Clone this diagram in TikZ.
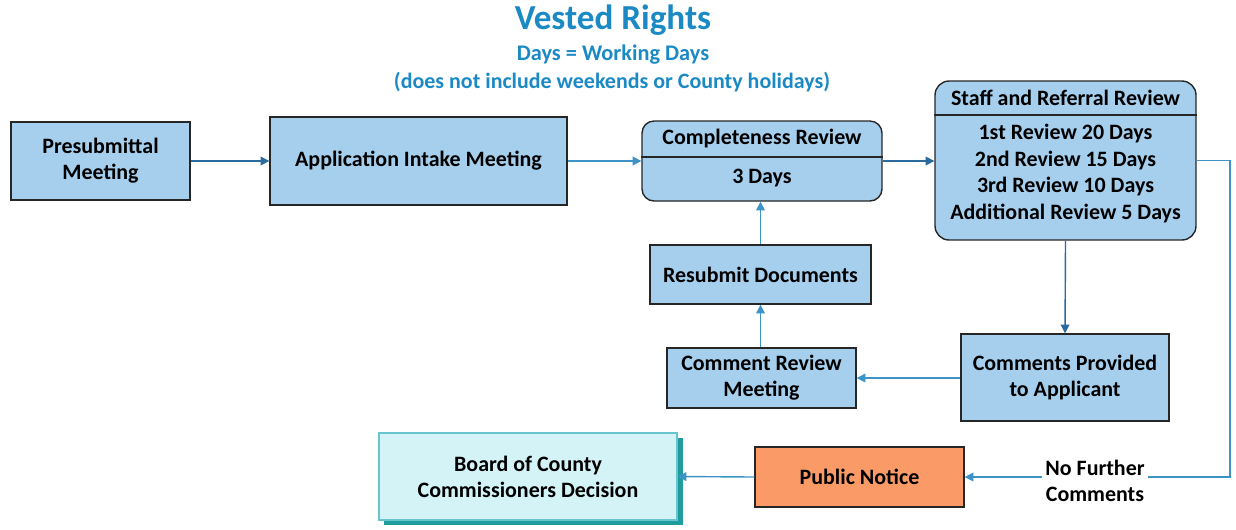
\documentclass[tikz,border=0pt]{standalone}
\usepackage{fontspec}
\setmainfont{Carlito}
\usetikzlibrary{arrows.meta,calc}
\definecolor{boxfill}{HTML}{A6CFEE}
\definecolor{lineblue}{HTML}{3D93C6}
\definecolor{darkblue}{HTML}{2A6A9C}
\definecolor{titleblue}{HTML}{1B8AC4}
\definecolor{orangefill}{HTML}{FA9B67}
\definecolor{boardfill}{HTML}{D4F3F6}
\definecolor{boardline}{HTML}{68C5CE}
\definecolor{shadowteal}{HTML}{1E9C9E}
\tikzset{
  procbox/.style={draw=black!85, line width=0.8pt, fill=boxfill, align=center,
    font=\bfseries\fontsize{12.5}{14.8}\selectfont, inner sep=2pt},
  conn/.style={draw=lineblue, line width=0.8pt, -{Triangle[length=5pt,width=5pt]}},
  connd/.style={draw=darkblue, line width=0.8pt, -{Triangle[length=5pt,width=5pt]}},
  boxtext/.style={font=\bfseries\fontsize{12.5}{14.8}\selectfont, align=center, inner sep=0pt},
}
\begin{document}
\begin{tikzpicture}[x=0.02cm,y=-0.02cm]
\useasboundingbox (0,0) rectangle (1236,529);
% titles
\node[text=titleblue, font=\bfseries\fontsize{20}{24}\selectfont] (title) at (613,20) {Vested Rights};
\node[text=titleblue, font=\bfseries\fontsize{12.7}{15}\selectfont] (sub1) at (613,55) {Days = Working Days};
\node[text=titleblue, font=\bfseries\fontsize{12.5}{15}\selectfont] (sub2) at (612,82) {(does not include weekends or County holidays)};
% boxes
\node[procbox, minimum width=3.58cm, minimum height=1.56cm] (pre) at (100.5,161) {Presubmittal\\Meeting};
\node[procbox, minimum width=5.94cm, minimum height=1.76cm] (app) at (418.5,161) {Application Intake Meeting};
\node[procbox, rounded corners=0.24cm, minimum width=4.8cm, minimum height=1.6cm] (comp) at (762,161) {};
\draw[black!85, line width=0.8pt] (comp.west |- 0,157) -- (comp.east |- 0,157);
\node[boxtext] (compt) at (762,139) {Completeness Review};
\node[boxtext] (compd) at (762,178) {3 Days};
\node[procbox, rounded corners=0.28cm, minimum width=5.22cm, minimum height=3.18cm] (staff) at (1065.5,160.5) {};
\draw[black!85, line width=0.8pt] (staff.west |- 0,115) -- (staff.east |- 0,115);
\node[boxtext] (stafft) at (1065.5,98) {Staff and Referral Review};
\node[boxtext, font=\bfseries\fontsize{12.5}{15.2}\selectfont] (staffd) at (1065.5,173.5) {1st Review 20 Days\\2nd Review 15 Days\\3rd Review 10 Days\\Additional Review 5 Days};
\node[procbox, minimum width=4.42cm, minimum height=1.18cm] (resub) at (760.5,274.5) {Resubmit Documents};
\node[procbox, minimum width=3.78cm, minimum height=1.2cm] (crm) at (761.5,378) {Comment Review\\Meeting};
\node[procbox, minimum width=4.16cm, minimum height=1.74cm] (cpa) at (1065,377.5) {Comments Provided\\to Applicant};
\node[procbox, fill=orangefill, minimum width=4.18cm, minimum height=1.2cm] (pn) at (859.5,477) {Public Notice};
\fill[shadowteal] (384,438) rectangle (683,525);
\node[procbox, draw=boardline, fill=boardfill, minimum width=5.96cm, minimum height=1.74cm] (board) at (528,476.5) {Board of County\\Commissioners Decision};
% connectors
\draw[connd] (pre.east) -- (app.west);
\draw[conn] (app.east) -- (comp.west);
\draw[connd] (comp.east) -- (staff.west |- comp.east);
\draw[conn] (resub.north) -- (resub.north |- comp.south);
\draw[conn] (crm.north -| resub.north) -- (resub.south);
\draw[connd] (staff.south) -- (cpa.north);
\draw[conn] (cpa.west |- crm.east) -- (crm.east);
\coordinate (rt) at (1230,160.5);
\draw[conn] (staff.east |- rt) -- (rt) |- (pn.east);
\node[boxtext, fill=white, inner sep=2pt] (nfc) at (1095,481) {No Further\\Comments};
\draw[conn] (pn.west) -- (board.east);
\end{tikzpicture}
\end{document}
